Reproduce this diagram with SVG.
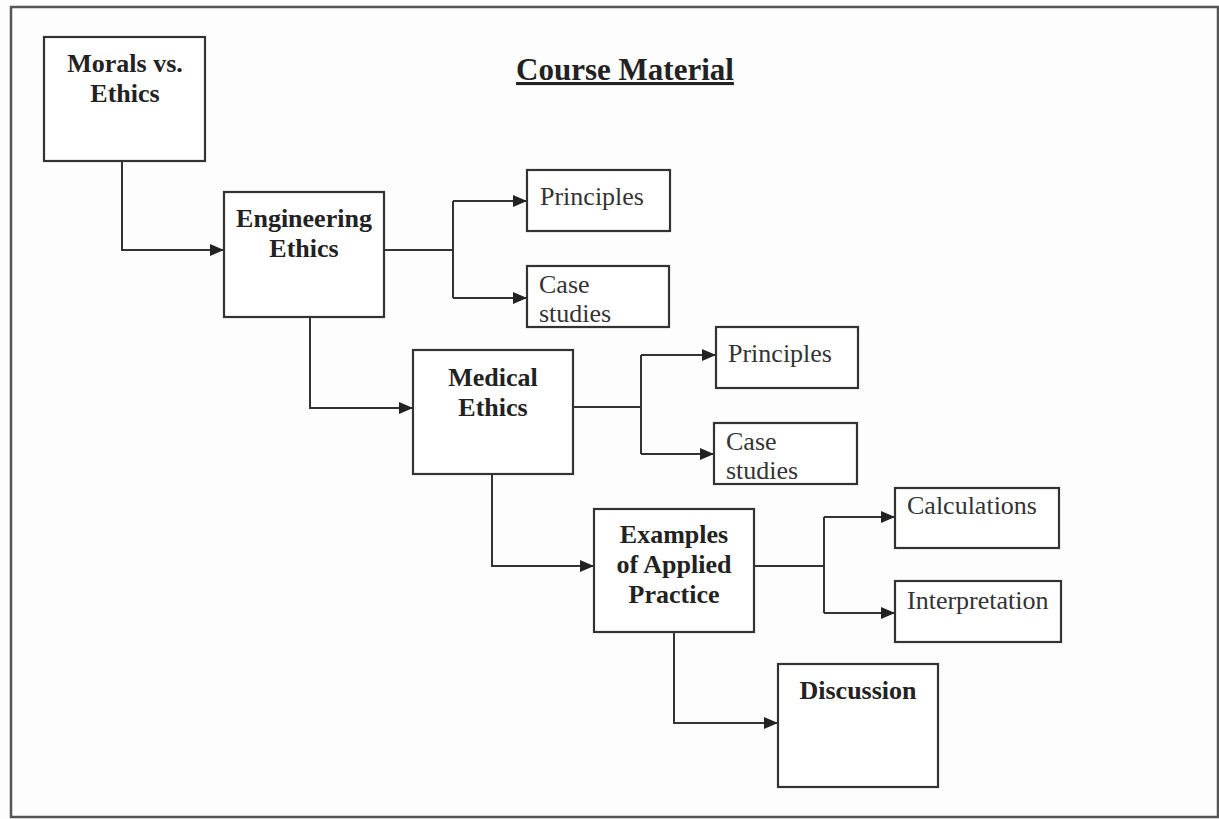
<svg xmlns="http://www.w3.org/2000/svg" width="1219" height="819" viewBox="0 0 1219 819">
<style>
.box{fill:#fff;stroke:#333;stroke-width:2.2}
.b{font-family:"Liberation Serif",serif;font-weight:bold;font-size:26px;fill:#222;text-anchor:middle}
.r{font-family:"Liberation Serif",serif;font-size:26px;fill:#333}
.c{fill:none;stroke:#333;stroke-width:2}
</style>
<defs>
<marker id="ah" viewBox="0 0 14 12" refX="14" refY="6" markerWidth="14" markerHeight="12" markerUnits="userSpaceOnUse" orient="auto">
<path d="M0,0 L14,6 L0,12 Z" fill="#222"/>
</marker>
</defs>
<rect x="0" y="0" width="1219" height="819" fill="#fdfdfd"/>
<rect x="11" y="7" width="1207" height="810" fill="none" stroke="#555" stroke-width="2.5"/>
<g id="title">
<text x="625" y="80" font-family="Liberation Serif, serif" font-weight="bold" font-size="31" fill="#222" text-anchor="middle" text-decoration="underline">Course Material</text>
</g>
<g id="connectors">
<path class="c" d="M122,162 V250 H224" marker-end="url(#ah)"/>
<path class="c" d="M384,250 H453"/>
<path class="c" d="M453,201 V298"/>
<path class="c" d="M453,201 H527" marker-end="url(#ah)"/>
<path class="c" d="M453,298 H527" marker-end="url(#ah)"/>
<path class="c" d="M310,317 V408 H413" marker-end="url(#ah)"/>
<path class="c" d="M573,407 H641"/>
<path class="c" d="M641,355 V454"/>
<path class="c" d="M641,355 H716" marker-end="url(#ah)"/>
<path class="c" d="M641,454 H714" marker-end="url(#ah)"/>
<path class="c" d="M492,474 V566 H594" marker-end="url(#ah)"/>
<path class="c" d="M754,566 H824"/>
<path class="c" d="M824,517 V613"/>
<path class="c" d="M824,517 H895" marker-end="url(#ah)"/>
<path class="c" d="M824,613 H895" marker-end="url(#ah)"/>
<path class="c" d="M674,632 V723 H778" marker-end="url(#ah)"/>
</g>
<g id="morals">
<rect class="box" x="44" y="37" width="161" height="124"/>
<text class="b" x="125" y="72">Morals vs.</text>
<text class="b" x="125" y="102">Ethics</text>
</g>
<g id="engineering">
<rect class="box" x="224" y="192" width="160" height="125"/>
<text class="b" x="304" y="227">Engineering</text>
<text class="b" x="304" y="257">Ethics</text>
</g>
<g id="principles1">
<rect class="box" x="527" y="170" width="143" height="61"/>
<text class="r" x="540" y="205">Principles</text>
</g>
<g id="case1">
<rect class="box" x="527" y="266" width="142" height="61"/>
<text class="r" x="539" y="293">Case</text>
<text class="r" x="539" y="322">studies</text>
</g>
<g id="medical">
<rect class="box" x="413" y="350" width="160" height="124"/>
<text class="b" x="493" y="386">Medical</text>
<text class="b" x="493" y="416">Ethics</text>
</g>
<g id="principles2">
<rect class="box" x="716" y="327" width="142" height="61"/>
<text class="r" x="728" y="362">Principles</text>
</g>
<g id="case2">
<rect class="box" x="714" y="423" width="143" height="61"/>
<text class="r" x="726" y="450">Case</text>
<text class="r" x="726" y="479">studies</text>
</g>
<g id="examples">
<rect class="box" x="594" y="509" width="160" height="123"/>
<text class="b" x="674" y="543">Examples</text>
<text class="b" x="674" y="573">of Applied</text>
<text class="b" x="674" y="603">Practice</text>
</g>
<g id="calculations">
<rect class="box" x="895" y="488" width="164" height="60"/>
<text class="r" x="907" y="514">Calculations</text>
</g>
<g id="interpretation">
<rect class="box" x="895" y="581" width="166" height="61"/>
<text class="r" x="907" y="609">Interpretation</text>
</g>
<g id="discussion">
<rect class="box" x="778" y="664" width="160" height="123"/>
<text class="b" x="858" y="699">Discussion</text>
</g>
</svg>
